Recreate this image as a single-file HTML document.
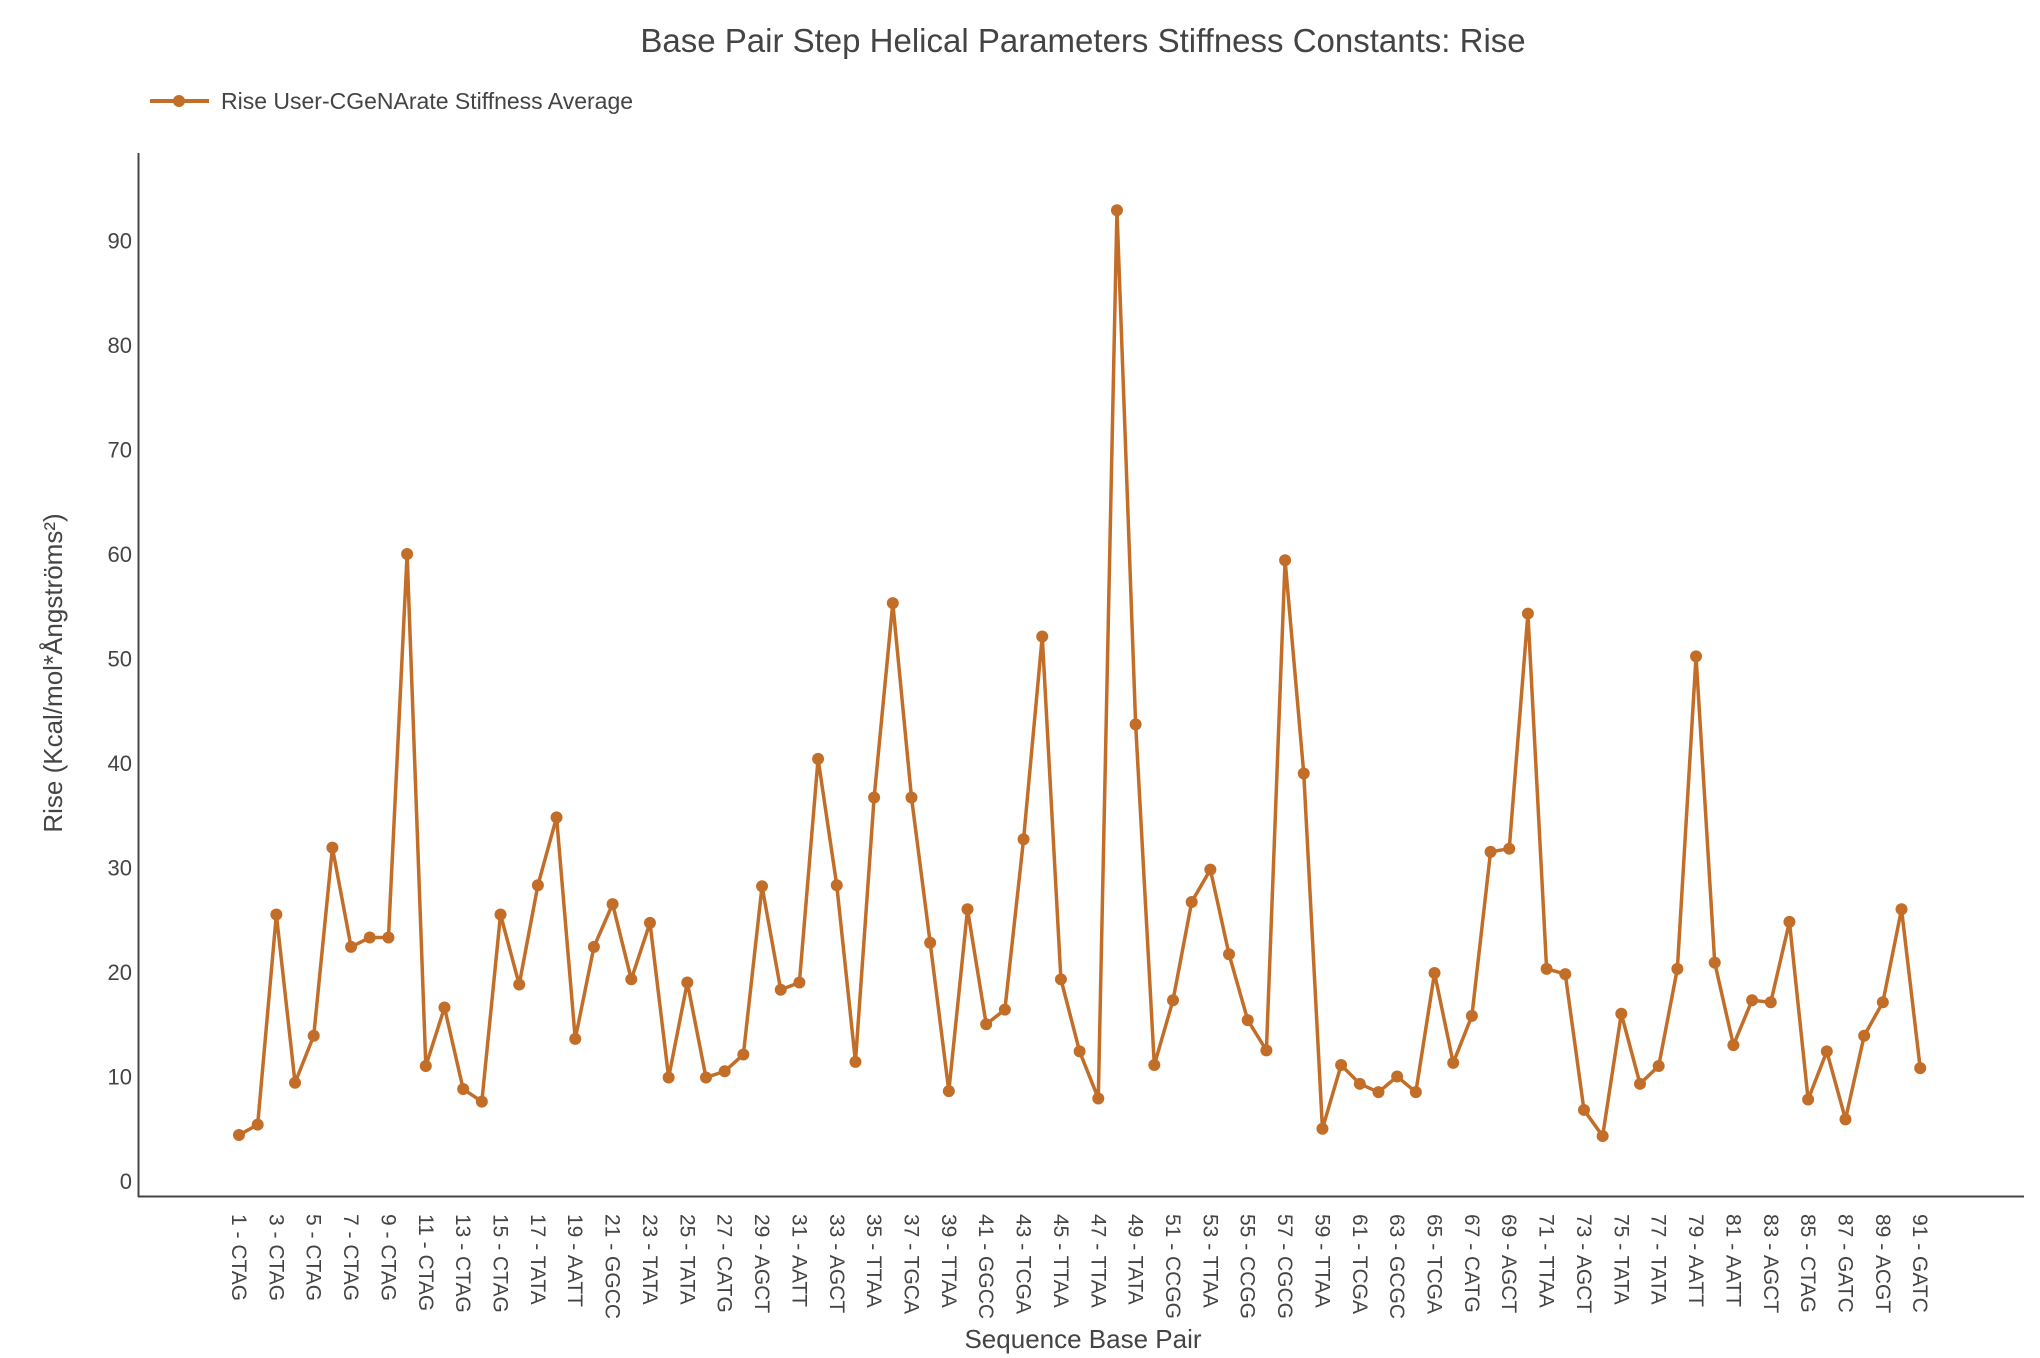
<!DOCTYPE html>
<html><head><meta charset="utf-8"><style>
html,body{margin:0;padding:0;background:#fff;}
svg{display:block;font-family:"Liberation Sans",sans-serif;}
</style></head><body>
<svg id="chart" width="2040" height="1358" viewBox="0 0 2040 1358">
<text x="1083" y="52" font-size="33" fill="#444" text-anchor="middle">Base Pair Step Helical Parameters Stiffness Constants: Rise</text>
<g>
<line x1="150" y1="101" x2="209" y2="101" stroke="#c36e28" stroke-width="4"/>
<circle cx="179" cy="101" r="6" fill="#c36e28"/>
<text x="221" y="109" font-size="23" fill="#444">Rise User-CGeNArate Stiffness Average</text>
</g>
<line x1="138.5" y1="153" x2="138.5" y2="1197" stroke="#444" stroke-width="2"/>
<line x1="138" y1="1196.5" x2="2024" y2="1196.5" stroke="#444" stroke-width="2"/>
<g id="yticks"></g><g id="xticks"></g>
<text transform="translate(62,673) rotate(-90)" font-size="26" fill="#444" text-anchor="middle">Rise (Kcal/mol*Ångströms²)</text>
<text x="1083" y="1348" font-size="26" fill="#444" text-anchor="middle">Sequence Base Pair</text>
<g id="series"></g>
</svg>
<script>
const values=[4.4,5.4,25.5,9.4,13.9,31.9,22.4,23.3,23.3,60,11.0,16.6,8.8,7.6,25.5,18.8,28.3,34.8,13.6,22.4,26.5,19.3,24.7,9.9,19.0,9.9,10.5,12.1,28.2,18.3,19.0,40.4,28.3,11.4,36.7,55.3,36.7,22.8,8.6,26.0,15.0,16.4,32.7,52.1,19.3,12.4,7.9,92.9,43.7,11.1,17.3,26.7,29.8,21.7,15.4,12.5,59.4,39.0,5.0,11.1,9.3,8.5,10.0,8.5,19.9,11.3,15.8,31.5,31.8,54.3,20.3,19.8,6.8,4.3,16.0,9.3,11.0,20.3,50.2,20.9,13.0,17.3,17.1,24.8,7.8,12.4,5.9,13.9,17.1,26.0,10.8];
const labelSeqs=["CTAG","CTAG","CTAG","CTAG","CTAG","CTAG","CTAG","CTAG","TATA","AATT","GGCC","TATA","TATA","CATG","AGCT","AATT","AGCT","TTAA","TGCA","TTAA","GGCC","TCGA","TTAA","TTAA","TATA","CCGG","TTAA","CCGG","CGCG","TTAA","TCGA","GCGC","TCGA","CATG","AGCT","TTAA","AGCT","TATA","TATA","AATT","AATT","AGCT","CTAG","GATC","ACGT","GATC"];
const yTicks=[0,10,20,30,40,50,60,70,80,90];
const NS="http://www.w3.org/2000/svg";
function xs(i){return 239+i*18.68;}
function ys(v){return 1181-v*10.45;}
const yt=document.getElementById('yticks');
yTicks.forEach(t=>{const e=document.createElementNS(NS,'text');


e.setAttribute('x',132);e.setAttribute('y',ys(t)+8);e.setAttribute('font-size','22');e.setAttribute('fill','#444');e.setAttribute('text-anchor','end');e.textContent=t;yt.appendChild(e);});
const xt=document.getElementById('xticks');
labelSeqs.forEach((s,k)=>{const i=k*2;const e=document.createElementNS(NS,'text');


e.setAttribute('transform','translate('+(xs(i)-7)+',1214) rotate(90)');e.setAttribute('font-size','21');e.setAttribute('fill','#444');e.textContent=(i+1)+' - '+s;xt.appendChild(e);});
const g=document.getElementById('series');
const pl=document.createElementNS(NS,'polyline');


pl.setAttribute('points',values.map((v,i)=>xs(i)+','+ys(v)).join(' '));
pl.setAttribute('fill','none');pl.setAttribute('stroke','#c36e28');pl.setAttribute('stroke-width','3.5');pl.setAttribute('stroke-linejoin','round');
g.appendChild(pl);
values.forEach((v,i)=>{const c=document.createElementNS(NS,'circle');


c.setAttribute('cx',xs(i));c.setAttribute('cy',ys(v));c.setAttribute('r','6');c.setAttribute('fill','#c36e28');g.appendChild(c);});
</script>
</body></html>
